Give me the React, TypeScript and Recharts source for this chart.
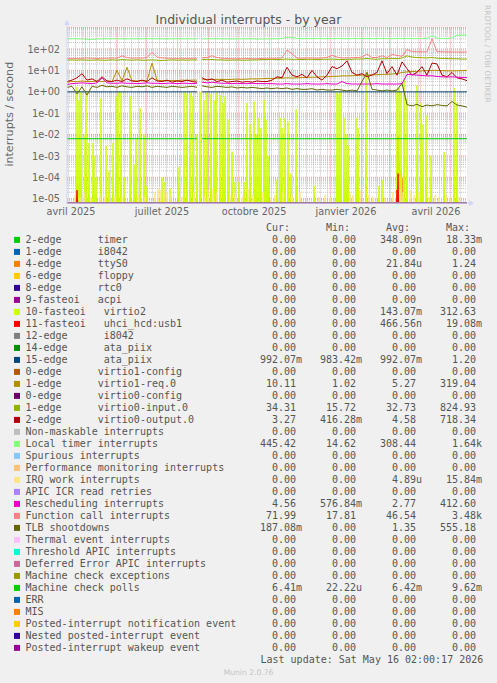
import { CartesianGrid, Line, LineChart, XAxis, YAxis } from "recharts";

// time axis: days since START, 400 days (munin "by year")
const DAY_MS = 86400000;
const START = Date.UTC(2025, 3, 12, 12);
const SPAN_DAYS = 400;
const toDay = (t: number) => (t - START) / DAY_MS;

const Y_MIN = 6.1e-6;
const Y_MAX = 1000;
const Y_TICKS = [1e-5, 1e-4, 1e-3, 1e-2, 1e-1, 1, 10, 100];

const MONTH_LABELS = ["avril 2025", "juillet 2025", "octobre 2025", "janvier 2026", "avril 2026"];
const MONTH_LABEL_DATES = [
  Date.UTC(2025, 3, 16, 12),
  Date.UTC(2025, 6, 16, 12),
  Date.UTC(2025, 9, 16, 12),
  Date.UTC(2026, 0, 16, 12),
  Date.UTC(2026, 3, 16, 12),
];

// sampled every 5 days (d = 0, 5, ... 400)
const LOCAL_TIMER = [
  300, 305, 300, 300, 285, 280, 295, 300, 300, 300, 300, 295, 300, 300, 300, 300, 305, 300, 300, 300,
  295, 300, 300, 300, 300, 300, 300, 295, 300, 300, 300, 300, 300, 290, 300, 300, 300, 300, 290, 295,
  300, 300, 300, 310, 360, 350, 310, 305, 310, 305, 310, 310, 305, 310, 310, 310, 305, 310, 310, 310,
  310, 305, 310, 310, 310, 305, 310, 310, 315, 310, 310, 310, 310, 420, 320, 310, 310, 330, 440, 445, 445,
];
const FUNCTION_CALL = [
  36, 37, 36, 37, 38, 37, 36, 37, 37, 38, 37, 48, 40, 37, 38, 37, 40, 70, 42, 38,
  37, 37, 36, 37, 36, 37, 37, 38, 40, 48, 40, 37, 36, 35, 35, 35, 36, 35, 35, 36,
  37, 37, 37, 38, 88, 60, 38, 37, 38, 38, 37, 38, 40, 50, 42, 38, 38, 39, 40, 42,
  58, 40, 40, 48, 40, 55, 50, 45, 95, 75, 74, 74, 73, 300, 75, 74, 73, 72, 72, 71, 72,
];
const VIRTIO0_INPUT = [
  30, 31, 30, 31, 30, 30, 31, 30, 30, 31, 30, 32, 31, 30, 31, 30, 30, 31, 30, 29,
  30, 31, 30, 31, 30, 31, 31, 32, 33, 32, 31, 31, 30, 30, 31, 30, 30, 31, 31, 32,
  32, 33, 32, 33, 34, 33, 33, 32, 33, 33, 32, 33, 33, 34, 33, 32, 33, 33, 34, 34,
  36, 34, 33, 35, 35, 36, 35, 38, 48, 42, 40, 39, 38, 40, 37, 36, 36, 35, 35, 34, 34,
];
const VIRTIO0_OUTPUT = [
  3.0, 3.5, 4.5, 7.0, 3.5, 4.0, 3.0, 5.0, 3.2, 3.0, 3.5, 3.0, 4.0, 3.2, 3.0, 3.5, 3.0, 4.5, 3.2, 3.0,
  3.5, 2.8, 3.2, 3.0, 3.5, 3.0, 2.8, 4.5, 3.5, 4.0, 3.0, 3.5, 2.8, 3.0, 3.2, 2.8, 3.0, 2.8, 3.2, 3.0,
  3.0, 3.5, 5.0, 4.5, 14, 6.0, 5.0, 6.5, 4.5, 10, 5.0, 3.5, 6.0, 15, 12, 16, 28, 8.0, 6.0, 7.0,
  5.0, 6.0, 8.0, 28, 7.0, 15, 6.0, 25, 12, 6.0, 8.0, 15, 6.0, 22, 20, 6.0, 5.0, 8.0, 4.5, 4.0, 3.3,
];
const VIRTIO1_REQ = [
  2.8, 3.0, 3.0, 3.2, 3.0, 3.0, 3.2, 3.0, 3.2, 3.0, 10, 3.2, 14, 3.3, 3.2, 3.3, 3.2, 22, 3.5, 3.3,
  3.3, 3.4, 3.3, 3.5, 3.4, 3.5, 3.5, 3.6, 3.8, 3.7, 3.8, 3.8, 3.7, 3.8, 3.9, 3.8, 3.9, 4.0, 4.0, 4.1,
  4.2, 4.2, 4.3, 4.3, 4.5, 4.4, 4.5, 4.6, 4.7, 4.8, 4.8, 5.0, 5.0, 5.2, 5.3, 5.5, 5.5, 5.6, 5.8, 6.0,
  6.0, 6.2, 6.3, 6.5, 6.5, 6.8, 7.0, 8.0, 8.5, 8.8, 9.0, 9.5, 9.8, 10, 10, 9.8, 9.5, 9.5, 9.6, 9.8, 10.1,
];
const RESCHEDULING = [
  2.2, 2.4, 2.5, 2.6, 2.5, 2.4, 2.6, 4.5, 2.6, 2.5, 2.5, 2.6, 2.5, 2.5, 2.4, 2.5, 2.6, 2.5, 2.5, 2.4,
  2.5, 2.5, 2.4, 2.5, 2.5, 2.4, 2.5, 2.8, 2.6, 2.8, 2.6, 2.5, 2.5, 2.4, 2.5, 2.4, 2.4, 2.5, 2.4, 2.4,
  2.4, 2.4, 2.3, 2.3, 2.4, 2.3, 2.3, 2.3, 2.4, 2.3, 2.3, 2.3, 2.4, 2.3, 2.3, 3.0, 2.4, 2.3, 2.3, 2.3,
  2.3, 2.3, 2.4, 2.3, 2.3, 2.3, 2.3, 2.4, 6.5, 6.3, 6.0, 5.8, 5.5, 5.6, 5.2, 5.0, 4.9, 5.0, 4.8, 4.7, 4.6,
];
const TLB_SHOOTDOWNS = [
  1.6, 1.8, 0.8, 1.7, 0.7, 1.8, 1.6, 2.0, 1.7, 1.8, 1.6, 1.9, 1.7, 1.6, 1.8, 1.7, 1.9, 1.6, 1.8, 1.7,
  1.6, 1.8, 1.7, 1.6, 1.7, 1.8, 1.6, 1.9, 1.7, 1.6, 1.8, 1.7, 1.6, 1.7, 1.5, 1.6, 1.5, 1.6, 1.5, 1.4,
  1.5, 1.4, 1.5, 1.4, 1.5, 1.3, 1.4, 1.3, 1.3, 1.4, 1.2, 1.3, 1.2, 1.2, 1.3, 1.2, 1.1, 1.2, 1.1, 3.0,
  8.0, 1.3, 1.2, 1.1, 1.2, 1.1, 1.2, 2.5, 0.25, 0.22, 0.26, 0.2, 0.24, 0.22, 0.25, 0.23, 0.22, 0.35, 0.24, 0.22, 0.19,
];

// spiky series: [day, value], zero elsewhere
const VIRTIO2_SPIKES: [number, number][] = [
  [10, 1.7], [12, 0.4], [14, 1.0], [18, 0.01], [19, 1.1], [22, 0.004], [26, 0.004], [27, 0.001], [29, 1e-4],
  [34, 0.5], [39, 0.003], [42, 2e-4], [46, 0.004], [49, 0.6], [51, 1.0], [54, 1.0], [57, 1e-4],
  [63, 0.6], [67, 4e-4], [69, 0.007], [73, 0.17], [77, 0.01], [80, 4e-5], [95, 1e-4], [98, 6e-5], [103, 3e-5],
  [112, 3e-4], [117, 1.0], [120, 0.8], [123, 0.9], [126, 0.6], [130, 0.01], [133, 1.0], [137, 0.4],
  [140, 1.0], [144, 0.8], [147, 0.4], [149, 1.0], [153, 0.7], [156, 0.3], [158, 0.6],
  [161, 0.05], [165, 0.0016], [168, 6e-5], [172, 6e-5], [177, 6e-5], [180, 0.3], [183, 0.03], [187, 0.35],
  [189, 0.01], [192, 0.06], [194, 0.02], [197, 0.4], [199, 0.05], [201, 0.001], [210, 8e-5], [213, 0.06],
  [215, 0.02], [218, 0.06], [221, 0.04], [224, 1.5e-4], [229, 0.15], [230, 4e-5], [247, 4e-5], [270, 1.0],
  [272, 0.8], [274, 1.0], [277, 0.06], [279, 0.01], [281, 0.003], [289, 0.06], [291, 0.02], [299, 8.0],
  [312, 4e-5], [315, 8e-5], [330, 1.0], [332, 1.5], [334, 1.0], [337, 3.5], [340, 0.5], [350, 2.0], [354, 0.3],
  [356, 0.03], [359, 0.08], [364, 0.001], [377, 0.0015], [387, 1.5], [390, 0.3],
];
const IRQ_WORK_SPIKES: [number, number][] = [
  [8, 1.5e-5], [13, 1.2e-5], [17, 2e-5], [24, 1.2e-5], [33, 1.5e-5], [38, 1.2e-5], [48, 1.4e-5], [55, 1.2e-5],
  [71, 1.5e-5], [78, 1.2e-5], [88, 2e-5], [91, 3e-5], [94, 2.5e-5], [97, 3e-5], [100, 2e-5], [104, 1.5e-5],
  [115, 1.2e-5], [127, 2e-5], [138, 1.5e-5], [141, 2.5e-5], [146, 3e-5], [150, 2e-5], [163, 1.5e-5], [168, 2e-5],
  [175, 1.2e-5], [181, 3e-5], [186, 1.5e-5], [196, 2e-5], [204, 1.2e-5], [208, 1.5e-5], [216, 2e-5], [225, 1.5e-5],
  [233, 2e-5], [252, 1.2e-5], [258, 1.5e-5], [263, 1.2e-5], [283, 2e-5], [286, 1.5e-5], [293, 2.5e-5], [302, 1.5e-5],
  [306, 1.2e-5], [318, 1.2e-5], [326, 2e-5], [333, 3e-5], [336, 2e-5], [343, 2.5e-5], [347, 1.5e-5], [352, 2e-5],
  [362, 1.2e-5], [368, 1.5e-5], [372, 1.2e-5], [379, 1.5e-5], [383, 1.2e-5], [392, 1.2e-5],
];
const USB1_SPIKES: [number, number][] = [[10, 2.5e-5], [330, 2.6e-5], [331, 1.5e-4]];
const TTYS0_SPIKES: [number, number][] = [[331, 8e-3], [332, 5e-4], [334, 2e-4], [336, 1e-4]];
const TIMER_SPIKES: [number, number][] = [[331, 5e-5]];

const ATA_PIIX_LEVEL = 0.99;
const MCE_POLLS_LEVEL = 0.0064;

const NAMES = [
  "2-edge      timer", "1-edge      i8042", "4-edge      ttyS0", "6-edge      floppy", "8-edge      rtc0",
  "9-fasteoi   acpi", "10-fasteoi   virtio2", "11-fasteoi   uhci_hcd:usb1", "12-edge      i8042",
  "14-edge      ata_piix", "15-edge      ata_piix", "0-edge      virtio1-config", "1-edge      virtio1-req.0",
  "0-edge      virtio0-config", "1-edge      virtio0-input.0", "2-edge      virtio0-output.0",
  "Non-maskable interrupts", "Local timer interrupts", "Spurious interrupts", "Performance monitoring interrupts",
  "IRQ work interrupts", "APIC ICR read retries", "Rescheduling interrupts", "Function call interrupts",
  "TLB shootdowns", "Thermal event interrupts", "Threshold APIC interrupts", "Deferred Error APIC interrupts",
  "Machine check exceptions", "Machine check polls", "ERR", "MIS", "Posted-interrupt notification event",
  "Nested posted-interrupt event", "Posted-interrupt wakeup event",
];
const COLORS = [
  "#00CC00", "#0066B3", "#FF8000", "#FFCC00", "#330099", "#990099", "#CCFF00", "#FF0000", "#808080",
  "#008F00", "#00487D", "#B35A00", "#B38F00", "#6B006B", "#8FB300", "#B30000", "#BEBEBE", "#80FF80",
  "#80C9FF", "#FFC080", "#FFE680", "#AA80FF", "#EE00CC", "#FF8080", "#666600", "#FFBFFF", "#00FFCC",
  "#CC6699", "#999900", "#00CC00", "#0066B3", "#FF8000", "#FFCC00", "#330099", "#990099",
];
const CUR = [
  "0.00", "0.00", "0.00", "0.00", "0.00", "0.00", "0.00", "0.00", "0.00", "0.00", "992.07m", "0.00",
  "10.11", "0.00", "34.31", "3.27", "0.00", "445.42", "0.00", "0.00", "0.00", "0.00", "4.56", "71.99",
  "187.08m", "0.00", "0.00", "0.00", "0.00", "6.41m", "0.00", "0.00", "0.00", "0.00", "0.00",
];
const MIN = [
  "0.00", "0.00", "0.00", "0.00", "0.00", "0.00", "0.00", "0.00", "0.00", "0.00", "983.42m", "0.00",
  "1.02", "0.00", "15.72", "416.28m", "0.00", "14.62", "0.00", "0.00", "0.00", "0.00", "576.84m", "17.81",
  "0.00", "0.00", "0.00", "0.00", "0.00", "22.22u", "0.00", "0.00", "0.00", "0.00", "0.00",
];
const AVG = [
  "348.09n", "0.00", "21.84u", "0.00", "0.00", "0.00", "143.07m", "466.56n", "0.00", "0.00", "992.07m", "0.00",
  "5.27", "0.00", "32.73", "4.58", "0.00", "308.44", "0.00", "0.00", "4.89u", "0.00", "2.77", "46.54",
  "1.35", "0.00", "0.00", "0.00", "0.00", "6.42m", "0.00", "0.00", "0.00", "0.00", "0.00",
];
const MAX = [
  "18.33m", "0.00", "1.24", "0.00", "0.00", "0.00", "312.63", "19.08m", "0.00", "0.00", "1.20", "0.00",
  "319.04", "0.00", "824.93", "718.34", "0.00", "1.64k", "0.00", "0.00", "15.84m", "0.00", "412.60", "3.48k",
  "555.18", "0.00", "0.00", "0.00", "0.00", "9.62m", "0.00", "0.00", "0.00", "0.00", "0.00",
];

type Pt = { d: number; v: number | null };

// data outage around late August 2025
const GAP_DAY = 132;
const SAMPLE_DAYS = LOCAL_TIMER.map((_, i) => i * 5);

const plotValue = (v: number | null) => (v === null ? null : Math.max(v, Y_MIN));

function sampled(values: number[]): Pt[] {
  const pts: Pt[] = [];
  values.forEach((v, i) => {
    const d = SAMPLE_DAYS[i];
    if (d > GAP_DAY && pts.length && pts[pts.length - 1].d < GAP_DAY) pts.push({ d: GAP_DAY, v: null });
    pts.push({ d, v: plotValue(v) });
  });
  return pts;
}
function flat(level: number): Pt[] {
  return [
    { d: 0, v: level },
    { d: 130, v: level },
    { d: GAP_DAY, v: null },
    { d: 135, v: level },
    { d: SPAN_DAYS, v: level },
  ];
}
// one-sample spikes: zero on either side of each reading
function spiky(spikes: [number, number][]): Pt[] {
  const pts: Pt[] = [{ d: 0, v: Y_MIN }];
  [...spikes].sort((a, b) => a[0] - b[0]).forEach(([d, v]) => {
    pts.push({ d: d - 0.5, v: Y_MIN }, { d, v: plotValue(v) }, { d: d + 0.5, v: Y_MIN });
  });
  pts.push({ d: SPAN_DAYS, v: Y_MIN });
  return pts;
}
const ZERO: Pt[] = [{ d: 0, v: Y_MIN }, { d: SPAN_DAYS, v: Y_MIN }];

const SERIES_POINTS: Record<number, Pt[]> = {
  0: spiky(TIMER_SPIKES),
  2: spiky(TTYS0_SPIKES),
  6: spiky(VIRTIO2_SPIKES),
  7: spiky(USB1_SPIKES),
  10: flat(ATA_PIIX_LEVEL),
  12: sampled(VIRTIO1_REQ),
  14: sampled(VIRTIO0_INPUT),
  15: sampled(VIRTIO0_OUTPUT),
  17: sampled(LOCAL_TIMER),
  20: spiky(IRQ_WORK_SPIKES),
  22: sampled(RESCHEDULING),
  23: sampled(FUNCTION_CALL),
  24: sampled(TLB_SHOOTDOWNS),
  29: flat(MCE_POLLS_LEVEL),
};

// grid positions (calendar / log decades)
const MONTH_DAYS: number[] = [];
for (let m = 4; m <= 16; m++) MONTH_DAYS.push(toDay(Date.UTC(2025, m, 1)));
const WEEK_DAYS: number[] = [];
for (let t = Date.UTC(2025, 3, 14); toDay(t) <= SPAN_DAYS; t += 7 * DAY_MS) WEEK_DAYS.push(toDay(t));
const DECADES = [1e-5, 1e-4, 1e-3, 1e-2, 1e-1, 1, 10, 100, 1000];
const MINOR_Y: number[] = [];
for (let e = -6; e <= 2; e++) for (let k = 2; k <= 9; k++) {
  const v = k * Math.pow(10, e);
  if (v > Y_MIN && v < Y_MAX) MINOR_Y.push(v);
}

const LABEL_DAYS = MONTH_LABEL_DATES.map(toDay);
const expLabel = (v: number) => {
  const e = Math.round(Math.log10(v));
  return `1e${e < 0 ? "-" : "+"}${String(Math.abs(e)).padStart(2, "0")}`;
};

const FONT = "'DejaVu Sans', sans-serif";
const MONO = "'DejaVu Sans Mono', monospace";
const AXIS_BLUE = "#CFD6F8";

const XTick = ({ x, y, payload }: any) => {
  const i = LABEL_DAYS.findIndex((d) => Math.abs(d - payload.value) < 0.01);
  return (
    <text x={x} y={y + 11.7} textAnchor="middle" fontFamily={FONT} fontSize={9.7} fill="#666">
      {MONTH_LABELS[i]}
    </text>
  );
};
const YTick = ({ x, y, payload }: any) => (
  <text x={x - 7} y={y + 3.6} textAnchor="end" fontFamily={FONT} fontSize={9.7} fill="#666">
    {expLabel(payload.value)}
  </text>
);

const nb = (s: string) => s.replace(/ /g, "\u00a0");
const field = (s: string) => nb(/[a-z]$/i.test(s) ? s.padStart(7) : s.padStart(6) + " ");

const LEGEND_X = 25.5;
const FIELD_X = [260, 320, 380, 440];
const ROW0 = 243.3;
const ROW_H = 12;

export default function App() {
  return (
    <div style={{ position: "absolute", left: 0, top: 0, width: 497, height: 683, background: "#F0F0F0", overflow: "hidden" }}>
      <div style={{ position: "absolute", left: 0, top: 0 }}>
        <LineChart width={497} height={230} margin={{ top: 27.6, right: 30, bottom: 0, left: 0 }}>
          <CartesianGrid
            fill="#FFFFFF"
            stroke="#C4C4C4"
            strokeDasharray="1 1"
            horizontalValues={MINOR_Y}
            verticalValues={WEEK_DAYS}
          />
          <CartesianGrid
            stroke="#EE9A9A"
            strokeDasharray="1 1"
            horizontalValues={DECADES}
            verticalValues={MONTH_DAYS}
          />
          <XAxis
            dataKey="d"
            type="number"
            domain={[0, SPAN_DAYS]}
            allowDataOverflow
            ticks={LABEL_DAYS}
            interval={0}
            tick={<XTick />}
            tickLine={false}
            tickSize={0}
            tickMargin={0}
            height={26.7}
            stroke={AXIS_BLUE}
          />
          <YAxis
            type="number"
            scale="log"
            domain={[Y_MIN, Y_MAX]}
            ticks={Y_TICKS}
            interval={0}
            tick={<YTick />}
            tickLine={false}
            tickSize={0}
            tickMargin={0}
            width={67}
            stroke={AXIS_BLUE}
          />
          {NAMES.map((name, i) => (
            <Line
              key={name + i}
              data={SERIES_POINTS[i] ?? ZERO}
              dataKey="v"
              type="linear"
              stroke={COLORS[i]}
              strokeWidth={1}
              dot={false}
              activeDot={false}
              connectNulls={false}
              isAnimationActive={false}
            />
          ))}
        </LineChart>
      </div>
      <svg width={497} height={683} style={{ position: "absolute", left: 0, top: 0, pointerEvents: "none" }}>
        <text x={248.5} y={24} textAnchor="middle" fontFamily={FONT} fontSize={12.5} fill="#555">
          Individual interrupts - by year
        </text>
        <text
          x={13.5}
          y={114.2}
          transform="rotate(-90 13.5 114.2)"
          textAnchor="middle"
          fontFamily={FONT}
          fontSize={11.1}
          fill="#666"
        >
          interrupts / second
        </text>
        <text
          x={485}
          y={54}
          transform="rotate(90 485 54)"
          textAnchor="middle"
          fontFamily={FONT}
          fontSize={7.6}
          fill="#C4C4C4"
        >
          RRDTOOL / TOBI OETIKER
        </text>
        {/* axis arrows */}
        <line x1={67} y1={27.6} x2={67} y2={22} stroke={AXIS_BLUE} />
        <polygon points="64,25 70,25 67,20" fill={AXIS_BLUE} />
        <line x1={467} y1={203.3} x2={470} y2={203.3} stroke={AXIS_BLUE} />
        <polygon points="469,200.3 469,206.3 474,203.3" fill={AXIS_BLUE} />

        <g fontFamily={MONO} fontSize={10} fill="#555">
          {["Cur:", "Min:", "Avg:", "Max:"].map((h, c) => (
            <text key={h} x={FIELD_X[c]} y={ROW0 - ROW_H}>
              {nb(" " + h)}
            </text>
          ))}
          {NAMES.map((name, i) => {
            const y = ROW0 + i * ROW_H;
            return (
              <g key={name + i}>
                <rect x={14} y={y - 6.4} width={6} height={6} fill={COLORS[i]} />
                <text x={LEGEND_X} y={y}>{nb(name)}</text>
                {[CUR[i], MIN[i], AVG[i], MAX[i]].map((s, c) => (
                  <text key={c} x={FIELD_X[c]} y={y}>{field(s)}</text>
                ))}
              </g>
            );
          })}
          <text x={260.5} y={ROW0 + NAMES.length * ROW_H}>
            {nb("Last update: Sat May 16 02:00:17 2026")}
          </text>
        </g>
        <text x={248.5} y={675} textAnchor="middle" fontFamily={FONT} fontSize={7.6} fill="#C4C4C4">
          Munin 2.0.76
        </text>
      </svg>
    </div>
  );
}
